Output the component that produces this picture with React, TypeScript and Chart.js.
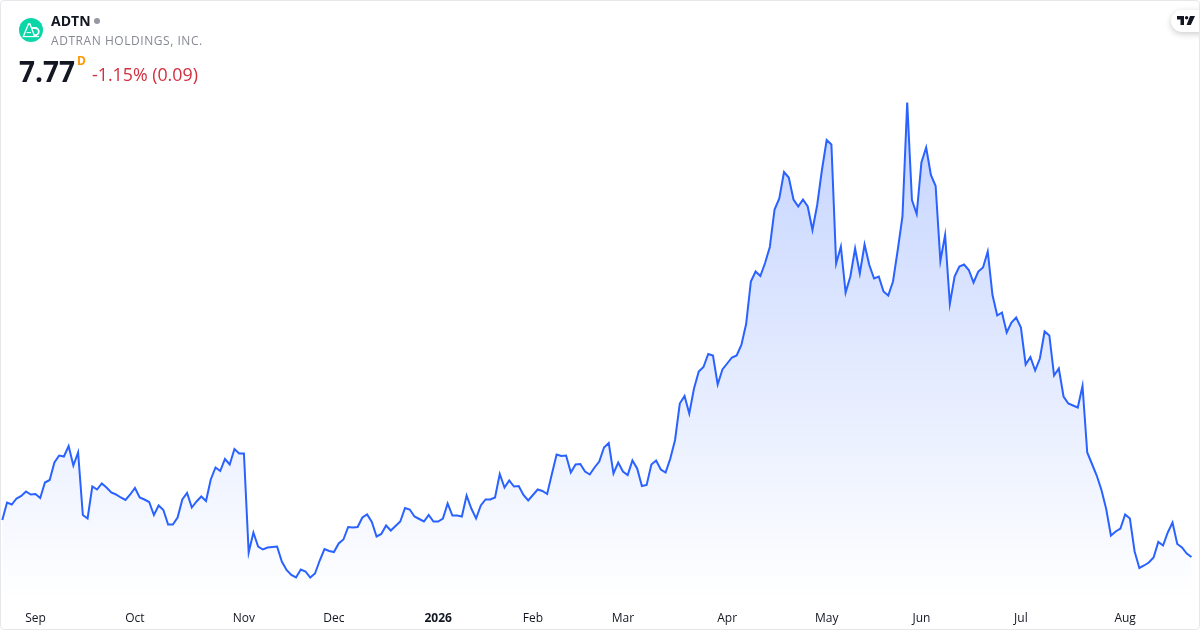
import React, { useEffect, useRef } from "react";
import { Chart, registerables } from "chart.js";

Chart.register(...registerables);

const closes: number[] = [
  8.51, 8.86, 8.82, 8.94, 8.99, 9.08, 9.02, 9.03, 8.95, 9.26, 9.31, 9.66, 9.80, 9.78, 9.99, 9.60, 9.86, 8.61, 8.54, 9.18,
  9.12, 9.24, 9.16, 9.06, 9.02, 8.96, 8.91, 9.02, 9.15, 8.96, 8.92, 8.87, 8.61, 8.80, 8.71, 8.42, 8.42, 8.56, 8.92, 9.05,
  8.76, 8.88, 8.98, 8.89, 9.32, 9.56, 9.49, 9.73, 9.62, 9.93, 9.84, 9.84, 7.86, 8.26, 7.98, 7.92, 7.96, 7.97, 7.98, 7.68,
  7.51, 7.41, 7.36, 7.52, 7.48, 7.36, 7.44, 7.70, 7.93, 7.89, 7.87, 8.04, 8.12, 8.37, 8.36, 8.37, 8.56, 8.62, 8.47, 8.18,
  8.23, 8.40, 8.30, 8.39, 8.48, 8.75, 8.72, 8.58, 8.53, 8.48, 8.61, 8.48, 8.48, 8.54, 8.84, 8.60, 8.60, 8.58, 9.00, 8.74,
  8.54, 8.80, 8.92, 8.92, 8.96, 9.43, 9.16, 9.30, 9.18, 9.19, 9.01, 8.90, 9.01, 9.12, 9.09, 9.03, 9.43, 9.82, 9.79, 9.80,
  9.46, 9.62, 9.63, 9.48, 9.42, 9.56, 9.68, 9.96, 10.05, 9.44, 9.66, 9.48, 9.41, 9.70, 9.54, 9.19, 9.21, 9.62, 9.70, 9.52,
  9.46, 9.74, 10.11, 10.84, 10.99, 10.64, 11.14, 11.48, 11.57, 11.83, 11.80, 11.22, 11.52, 11.64, 11.76, 11.80, 12.01, 12.43, 13.28, 13.48,
  13.39, 13.65, 13.97, 14.72, 14.94, 15.47, 15.36, 14.92, 14.78, 14.92, 14.78, 14.31, 14.81, 15.51, 16.11, 16.02, 13.64, 13.98, 13.06, 13.38,
  13.94, 13.44, 14.02, 13.61, 13.34, 13.38, 13.08, 13.00, 13.28, 13.91, 14.58, 16.86, 14.91, 14.63, 15.66, 15.96, 15.41, 15.19, 13.69, 14.21,
  12.83, 13.38, 13.58, 13.62, 13.51, 13.26, 13.48, 13.56, 13.88, 13.01, 12.60, 12.66, 12.26, 12.46, 12.56, 12.36, 11.62, 11.77, 11.50, 11.74,
  12.28, 12.20, 11.40, 11.54, 10.98, 10.84, 10.80, 10.76, 11.19, 9.86, 9.63, 9.40, 9.11, 8.73, 8.20, 8.28, 8.34, 8.62, 8.54, 7.88,
  7.55, 7.60, 7.66, 7.76, 8.07, 8.00, 8.26, 8.46, 8.03, 7.96, 7.84, 7.77,
];

const tickLabels: string[] = ["Sep", "Oct", "Nov", "Dec", "2026", "Feb", "Mar", "Apr", "May", "Jun", "Jul", "Aug"];
const tickSessions: number[] = [7, 28, 51, 70, 92, 112, 131, 153, 174, 194, 215, 237];

const symbol = "ADTN";
const company = "ADTRAN HOLDINGS, INC.";
const lastPrice = "7.77";
const interval = "D";
const change = "-1.15% (0.09)";

const FONT = '"Open Sans", sans-serif';

export default function App() {
  const ref = useRef<HTMLCanvasElement | null>(null);

  useEffect(() => {
    const canvas = ref.current!;
    const ctx = canvas.getContext("2d")!;
    const grad = ctx.createLinearGradient(0, 102, 0, 600);
    grad.addColorStop(0, "rgba(41,98,255,0.28)");
    grad.addColorStop(1, "rgba(41,98,255,0)");

    const chart = new Chart(canvas, {
      type: "line",
      data: {
        datasets: [
          {
            data: closes.map((y, x) => ({ x, y })),
            borderColor: "#2962FF",
            borderWidth: 2,
            backgroundColor: grad,
            fill: "start",
            pointRadius: 0,
            tension: 0,
            borderJoinStyle: "miter",
          },
        ],
      },
      options: {
        responsive: false,
        animation: false,
        layout: { padding: 0 },
        plugins: { legend: { display: false }, tooltip: { enabled: false } },
        scales: {
          x: {
            type: "linear",
            min: -0.485,
            max: 252.8,
            grid: { display: false },
            border: { display: false },
            afterFit: (s: any) => {
              s.height = 30;
            },
            afterBuildTicks: (s: any) => {
              s.ticks = tickSessions.map((value) => ({ value }));
            },
            ticks: {
              autoSkip: false,
              maxRotation: 0,
              padding: 3,
              color: "#131722",
              font: (c: any) => ({
                family: FONT,
                size: 12,
                weight: tickLabels[tickSessions.indexOf(c.tick?.value)] === "2026" ? "bold" : "normal",
              }),
              callback: (v: any) => tickLabels[tickSessions.indexOf(Number(v))] ?? "",
            },
          },
          y: { display: false, min: 6.91, max: 18.91 },
        },
      },
    } as any);
    return () => chart.destroy();
  }, []);

  return (
    <div
      style={{
        position: "fixed",
        left: 0,
        top: 0,
        width: 1200,
        height: 630,
        background: "#fff",
        fontFamily: FONT,
        overflow: "hidden",
      }}
    >
      <canvas ref={ref} width={1200} height={630} style={{ position: "absolute", left: 0, top: 0, display: "block" }} />
      <svg width={24} height={24} viewBox="0 0 24 24" style={{ position: "absolute", left: 19, top: 18 }}>
        <circle cx={12} cy={12} r={12} fill="#0BD6A8" />
        <path d="M4.5 18 L9.5 6 L11 6 L15.5 18" fill="none" stroke="#fff" strokeWidth={1.3} />
        <path d="M3.5 18.6 H20" stroke="#fff" strokeWidth={1.1} />
        <path d="M13 10 H16.2 A3.6 3.6 0 0 1 16.2 17.2 H14.6" fill="none" stroke="#fff" strokeWidth={1.8} />
        <path d="M7.6 14.6 H12" stroke="#fff" strokeWidth={1} />
      </svg>
      <div style={{ position: "absolute", left: 51, top: 12, fontSize: 14, lineHeight: "18px", fontWeight: 700, color: "#131722" }}>
        {symbol}
      </div>
      <div style={{ position: "absolute", left: 94, top: 18, width: 6, height: 6, borderRadius: 3, background: "#9598a1" }} />
      <div style={{ position: "absolute", left: 51, top: 32, fontSize: 12, lineHeight: "17px", color: "#868993", letterSpacing: 0.55, whiteSpace: "nowrap" }}>
        {company}
      </div>
      <div style={{ position: "absolute", left: 19, top: 52, fontSize: 28, lineHeight: "38px", fontWeight: 700, color: "#131722" }}>
        {lastPrice}
      </div>
      <div style={{ position: "absolute", left: 77, top: 53, fontSize: 12, lineHeight: "16px", fontWeight: 700, color: "#ff9800" }}>
        {interval}
      </div>
      <div style={{ position: "absolute", left: 92, top: 62, fontSize: 17.8, lineHeight: "25px", color: "#d32f3f", whiteSpace: "nowrap" }}>
        {change}
      </div>
      <div
        style={{
          position: "absolute",
          left: 1171,
          top: 10,
          width: 44,
          height: 22,
          borderRadius: 11,
          background: "#fff",
          boxShadow: "0 2px 6px rgba(0,0,0,0.2)",
        }}
      >
        <svg width={18} height={9} viewBox="0 0 18 9" style={{ position: "absolute", left: 6, top: 6 }}>
          <path d="M0 0H7V9H3.5V3.4H0Z M13 0H18L13.8 9H9.6Z" fill="#131722" />
          <circle cx={9.6} cy={1.8} r={1.7} fill="#131722" />
        </svg>
      </div>
      <div
        style={{
          position: "absolute",
          left: 0,
          top: 0,
          width: 1198,
          height: 628,
          border: "1px solid #e6e7ea",
          borderRadius: 4,
          pointerEvents: "none",
        }}
      />
    </div>
  );
}
